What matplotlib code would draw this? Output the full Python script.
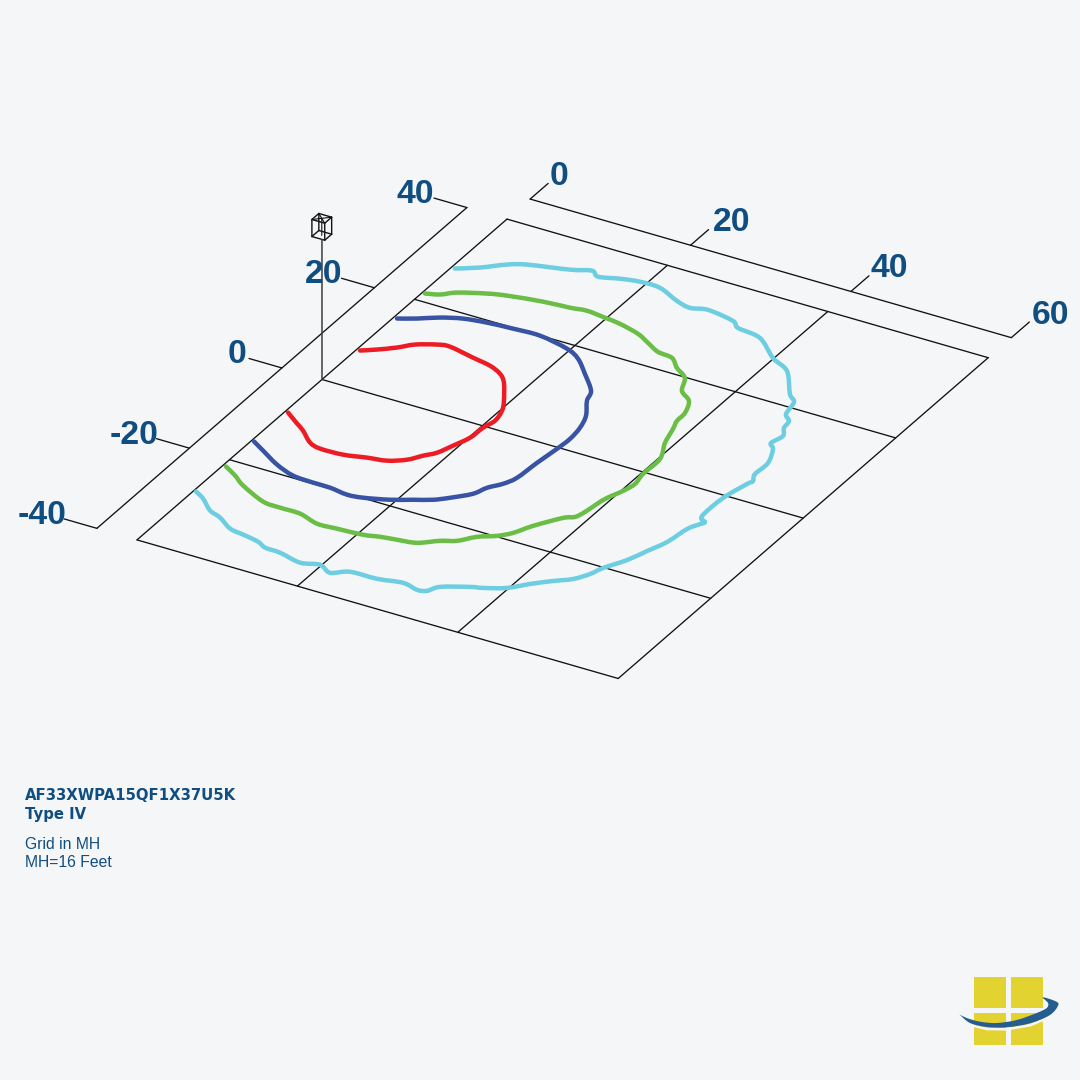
import matplotlib
matplotlib.use("Agg")
import matplotlib.pyplot as plt
from matplotlib.transforms import Affine2D
from matplotlib.path import Path
from matplotlib.patches import PathPatch, Rectangle

# ---- data (plane coordinates, in mounting heights) ----
red_x = [0.38,2.42,3.73,5.69,7.27,10.08,12.65,14.85,16.61,17.68,18.67,19.40,20.14,20.28,20.64,20.22,19.32,17.37,16.03,14.23,11.77,8.42,7.00,4.93,3.57,1.91,0.43]
red_y = [-8.01,-9.59,-10.58,-12.45,-13.04,-12.93,-12.20,-11.69,-10.43,-8.82,-7.50,-5.34,-2.92,-0.35,1.61,3.86,5.83,9.21,10.68,11.64,12.23,13.05,12.74,11.55,10.03,8.57,7.47]
blue_x = [0.33,2.15,4.97,7.66,10.29,12.42,14.77,16.60,19.34,21.50,23.37,24.75,26.47,27.13,28.20,28.86,29.12,29.48,29.62,29.36,28.63,27.10,26.40,23.99,21.72,19.61,15.67,12.39,9.30,6.62,4.36,2.31,0.44]
blue_y = [-15.27,-16.48,-18.35,-19.55,-19.78,-19.81,-20.21,-19.91,-18.84,-17.60,-16.53,-15.24,-13.25,-11.38,-9.77,-7.90,-4.00,-0.31,2.26,4.85,7.43,10.29,12.39,15.24,17.69,18.97,19.96,19.82,19.54,19.00,17.96,16.53,15.46]
green_x = [0.40,2.23,4.06,7.66,9.90,12.43,15.10,17.52,20.60,22.40,24.33,26.52,28.46,30.05,31.49,33.26,34.44,35.55,37.50,38.52,38.91,39.17,39.46,40.20,40.57,40.24,40.21,38.95,38.19,37.69,37.58,36.66,34.92,33.79,31.96,30.42,28.45,26.55,24.64,21.87,19.82,17.37,15.46,12.28,8.25,6.16,3.25,1.87,0.35]
green_y = [-21.46,-22.66,-24.10,-26.03,-26.25,-26.29,-27.26,-27.11,-26.85,-26.31,-25.95,-25.45,-23.83,-22.92,-21.10,-19.83,-18.41,-16.03,-12.92,-12.08,-10.62,-8.47,-6.81,-4.64,-2.68,-0.38,3.35,6.61,9.67,11.38,13.31,15.77,17.27,19.86,21.31,22.92,23.29,24.44,25.59,26.49,26.82,27.16,26.81,26.49,25.67,24.98,23.55,22.27,21.65]
cyan_x = [0.30,1.71,3.67,5.36,7.49,9.36,11.51,12.82,14.76,17.72,19.81,21.61,23.38,26.66,29.53,31.60,32.65,33.44,36.25,37.57,39.81,41.54,43.37,45.03,46.08,46.65,48.04,48.94,49.84,50.31,50.99,51.24,50.31,50.33,51.06,51.30,50.73,50.76,49.72,48.88,49.25,48.48,48.19,47.16,46.61,45.36,42.60,39.88,36.50,33.36,32.13,28.60,26.70,24.72,21.72,19.21,17.00,14.73,13.52,11.35,6.78,4.90,2.69,0.46]
cyan_y = [-27.76,-28.69,-30.56,-31.34,-32.86,-33.29,-33.80,-34.54,-34.68,-35.47,-34.78,-35.74,-34.48,-34.34,-33.69,-34.25,-33.90,-32.45,-30.84,-30.33,-29.05,-27.06,-25.27,-23.81,-21.97,-20.14,-17.35,-14.60,-11.83,-8.32,-6.69,-6.04,-5.08,-0.58,3.33,4.21,5.63,8.40,11.29,12.30,14.27,15.81,17.40,18.55,21.23,22.51,26.66,28.34,31.39,32.08,33.13,33.85,33.25,33.86,35.39,35.45,34.93,34.12,34.93,33.93,32.56,31.48,29.47,27.94]

x_ticks = [0, 20, 40, 60]
y_ticks = [-40, -20, 0, 20, 40]
x_labels = ["0", "20", "40", "60"]
y_labels = ["-40", "-20", "0", "20", "40"]
notes_bold = "AF33XWPA15QF1X37U5K\nType IV"
notes = "Grid in MH\nMH=16 Feet"

BG = "#f4f6f8"
INK = "#104d80"
LINE = "#111111"

fig = plt.figure(figsize=(10.8, 10.8), dpi=100, facecolor=BG)
ax = fig.add_axes([0, 0, 1, 1])
ax.set_xlim(0, 1080)
ax.set_ylim(1080, 0)
ax.axis("off")

# plane coordinates -> picture, a fixed isometric-like view
plane = Affine2D.from_values(8.02, 2.31, 4.625, -4.01, 322, 379.5) + ax.transData
LW = 0.95


def seg(xs, ys, lw=LW, color=LINE, z=2):
    ax.plot(xs, ys, transform=plane, color=color, lw=lw, zorder=z,
            solid_capstyle="round", solid_joinstyle="round")


def smooth_path(xs, ys):
    """Path through the given vertices, drawn with Bezier segments."""
    pts = list(zip(xs, ys))
    n = len(pts)
    verts = [pts[0]]
    codes = [Path.MOVETO]
    for i in range(n - 1):
        p0 = pts[max(i - 1, 0)]
        p1 = pts[i]
        p2 = pts[i + 1]
        p3 = pts[min(i + 2, n - 1)]
        c1 = (p1[0] + (p2[0] - p0[0]) / 6, p1[1] + (p2[1] - p0[1]) / 6)
        c2 = (p2[0] - (p3[0] - p1[0]) / 6, p2[1] - (p3[1] - p1[1]) / 6)
        verts += [c1, c2, p2]
        codes += [Path.CURVE4] * 3
    return Path(verts, codes)


# grid
for v in x_ticks:
    seg([v, v], [y_ticks[0], y_ticks[-1]])
for v in y_ticks:
    seg([x_ticks[0], x_ticks[-1]], [v, v])

# axes offset from grid
X_AX_Y = 45.0
Y_AX_X = -5.0
LABEL_SIZE = 24.3
seg([x_ticks[0], x_ticks[-1]], [X_AX_Y, X_AX_Y])
seg([Y_AX_X, Y_AX_X], [y_ticks[0], y_ticks[-1]])
x_nudge = [1.5, 4.5, 1.5, 2.0]
for v, lab, dx in zip(x_ticks, x_labels, x_nudge):
    seg([v, v], [X_AX_Y, X_AX_Y + 3.9])
    ax.annotate(lab, xy=(v, X_AX_Y + 3.9), xycoords=plane, xytext=(dx, 7),
                textcoords="offset pixels", ha="left", va="center",
                family="Liberation Sans", weight="bold", fontsize=LABEL_SIZE, color=INK)
y_nudge = [2.5, 1.5, -2.5, 0.5, -0.5]
for v, lab, dx in zip(y_ticks, y_labels, y_nudge):
    seg([Y_AX_X, Y_AX_X - 4.1], [v, v])
    ax.annotate(lab, xy=(Y_AX_X - 4.1, v), xycoords=plane, xytext=(dx, 3.5),
                textcoords="offset pixels", ha="right", va="center",
                family="Liberation Sans", weight="bold", fontsize=LABEL_SIZE, color=INK)

# vertical pole with small luminaire cube (height expressed along the plane)
zx, zy = -0.1081, 0.1874
pole_h = 139.5
seg([0, pole_h * zx], [0, pole_h * zy], lw=1.15, color="#444444", z=6)
bx, by = -16.38, 26.22   # cube base corner
cw, cd, ch = 1.6, 1.5, 17
corners = [(0, 0), (cw, 0), (cw, cd), (0, cd)]
for i in range(4):
    a = corners[i]
    b = corners[(i + 1) % 4]
    seg([bx + a[0], bx + b[0]], [by + a[1], by + b[1]], lw=1.0)
    seg([bx + a[0] + ch * zx, bx + b[0] + ch * zx],
        [by + a[1] + ch * zy, by + b[1] + ch * zy], lw=1.0)
    seg([bx + a[0], bx + a[0] + ch * zx], [by + a[1], by + a[1] + ch * zy], lw=1.0)
# inner detail of the cube
seg([bx + ch * zx, bx + cw + ch * zx], [by + ch * zy, by + cd + ch * zy], lw=0.8)
seg([bx + cw + ch * zx, bx + ch * zx], [by + ch * zy, by + cd + ch * zy], lw=0.8)
mx, my = bx + cw / 2, by + cd / 2
seg([mx, mx + ch * zx], [my, my + ch * zy], lw=0.8)

# isofootcandle curves
for xs, ys, c in [(red_x, red_y, "#ed1c24"), (blue_x, blue_y, "#3953a4"),
                  (green_x, green_y, "#6abd45"), (cyan_x, cyan_y, "#6dcde1")]:
    ax.add_patch(PathPatch(smooth_path(xs, ys), transform=plane, fc="none", ec=c,
                           lw=3.2, zorder=3, capstyle="round", joinstyle="round"))

# notes
ax.text(25, 805, notes_bold, family="DejaVu Sans", weight="bold", fontsize=10.7,
        color=INK, ha="left", va="center", linespacing=1.26)
ax.text(25, 853.5, notes, family="Liberation Sans", fontsize=11.3,
        color=INK, ha="left", va="center", linespacing=1.17)

# logo
YEL = "#e3d331"
for (x0, y0) in [(974.3, 977.3), (1011, 977.3), (974.3, 1013.3), (1011, 1013.3)]:
    ax.add_patch(Rectangle((x0, y0), 31.7, 31.7 if y0 > 1000 else 31, fc=YEL, ec="none", zorder=4))
lower_x = [959.3, 970, 986.7, 1006.7, 1030, 1050, 1058.3, 1055, 1042.7]
lower_y = [1014.3, 1023, 1027, 1027.3, 1023.3, 1015, 1005, 1001, 997.3]
upper_x = [1048, 1046.7, 1036.7, 1016.7, 996.7, 980, 966.7, 959.3]
upper_y = [1003, 1008, 1013, 1020, 1023, 1021.7, 1018, 1014.3]
ax.plot(lower_x[:6], [b + 2.0 for b in lower_y[:6]], color=BG, lw=1.8, zorder=5)
ax.add_patch(PathPatch(smooth_path(lower_x + upper_x, lower_y + upper_y),
                       fc="#265d8f", ec="none", zorder=6))

fig.savefig("out.png", dpi=100, facecolor=BG)
